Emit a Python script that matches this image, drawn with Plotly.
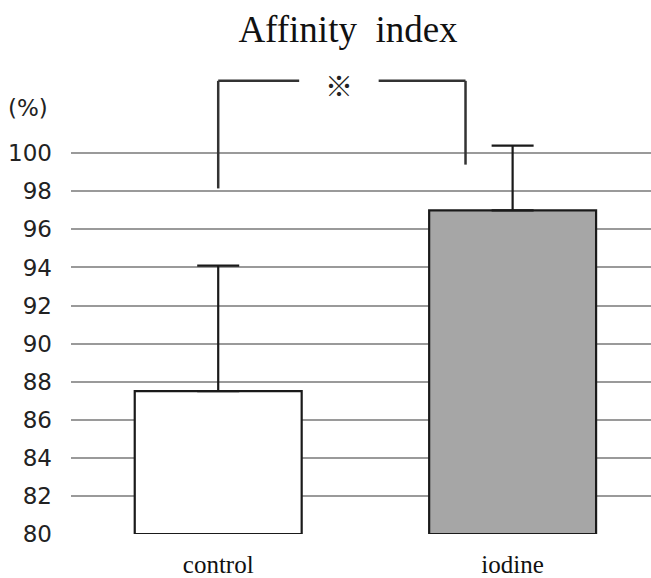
import plotly.graph_objects as go

categories = ["control", "iodine"]
means = [87.5, 97.0]
errors_plus = [6.6, 3.4]
fill_colors = ["#ffffff", "#a6a6a6"]
y_ticks = list(range(80, 101, 2))

W, H = 651, 578
ML, MR, MT, MB = 71, 0, 58, 44
PW, PH = W - ML - MR, H - MT - MB

fig = go.Figure()
for cat, m, e, c in zip(categories, means, errors_plus, fill_colors):
    fig.add_trace(go.Bar(
        x=[cat], y=[m - 80], base=80,
        width=0.567,
        marker=dict(color=c, line=dict(color="#1a1a1a", width=2.2)),
        error_y=dict(type="data", symmetric=False, array=[e], arrayminus=[0],
                     color="#1a1a1a", thickness=2.2, width=21),
        showlegend=False, hoverinfo="skip",
    ))

# significance bracket
line_style = dict(color="#333333", width=2.5)
yb = 103.8
fig.add_shape(type="line", xref="x", yref="y", x0=0.0, x1=0.0, y0=98.15, y1=yb, line=line_style)
fig.add_shape(type="line", xref="x", yref="y", x0=0.0, x1=0.275, y0=yb, y1=yb, line=line_style)
fig.add_shape(type="line", xref="x", yref="y", x0=0.545, x1=0.84, y0=yb, y1=yb, line=line_style)
fig.add_shape(type="line", xref="x", yref="y", x0=0.84, x1=0.84, y0=99.4, y1=yb, line=line_style)
fig.add_annotation(x=0.41, y=103.6, xref="x", yref="y", text="※", showarrow=False,
                   font=dict(family="Noto Sans CJK JP", size=28, color="#222222"))

fig.add_annotation(x=(28 - ML) / PW, y=(H - MB - 108) / PH, xref="paper", yref="paper",
                   text="(%)", showarrow=False, xanchor="center", yanchor="middle",
                   font=dict(family="DejaVu Sans", size=23, color="#222222"))

fig.update_layout(
    width=W, height=H,
    margin=dict(l=ML, r=MR, t=MT, b=MB),
    paper_bgcolor="white", plot_bgcolor="white",
    barmode="overlay",
    title=dict(text="Affinity\u00a0 index", x=348 / W, xref="container", xanchor="center",
               y=1 - 29 / H, yref="container", yanchor="middle",
               font=dict(family="Liberation Serif", size=37, color="#111111")),
    xaxis=dict(range=[-0.5, 1.47], showgrid=False, zeroline=False, showline=False,
               ticks="", tickfont=dict(family="Liberation Serif", size=25, color="#111111"),
               ticklabelstandoff=13, automargin=False),
    yaxis=dict(range=[80, 105], tickvals=y_ticks, ticktext=[str(v) for v in y_ticks],
               showgrid=True, gridcolor="#9a9a9a", gridwidth=2, zeroline=False, showline=False,
               ticks="", ticklabelstandoff=18, automargin=False,
               tickfont=dict(family="DejaVu Sans", size=23, color="#222222")),
)

fig.write_html("out.html", config={"displayModeBar": False},
               post_script="document.body.style.margin='0';")
